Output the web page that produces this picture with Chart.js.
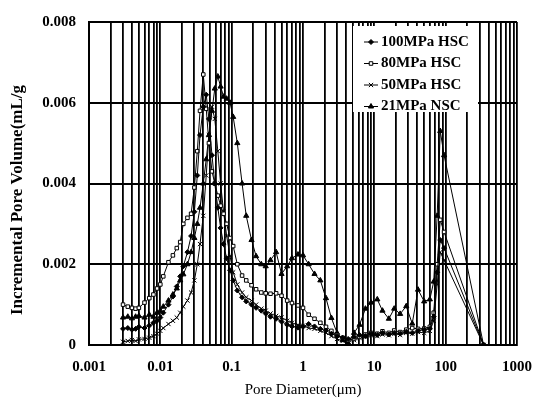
<!DOCTYPE html>
<html>
<head>
<meta charset="utf-8">
<script src="https://cdn.jsdelivr.net/npm/chart.js@4/dist/chart.umd.min.js"></script>
<style>
  html, body { margin: 0; padding: 0; background: #fff; }
  #wrap { width: 545px; height: 401px; }
</style>
</head>
<body>
<div id="wrap"><canvas id="poreChart" width="545" height="401"></canvas></div>
<script>
// 細孔径（μm）
const diameters = [
  0.003, 0.0035, 0.004, 0.0045, 0.005, 0.006, 0.007, 0.008, 0.009, 0.010,
  0.011, 0.013, 0.015, 0.017, 0.019, 0.021, 0.024, 0.027, 0.030, 0.033,
  0.036, 0.040, 0.044, 0.048, 0.053, 0.058, 0.064, 0.070, 0.077, 0.085,
  0.095, 0.105, 0.12, 0.14, 0.16, 0.19, 0.22, 0.26, 0.30, 0.35,
  0.42, 0.5, 0.6, 0.7, 0.85, 1.0, 1.2, 1.45, 1.75, 2.1,
  2.5, 3.0, 3.6, 4.3, 5.2, 6.2, 7.5, 9, 11, 13,
  16, 19, 23, 28, 34, 41, 50, 60, 68, 76,
  84, 95, 340
];

const hsc100 = [
  0.00040, 0.00042, 0.00038, 0.00040, 0.00045, 0.00042, 0.00048, 0.00055, 0.00060, 0.00068,
  0.00080, 0.00100, 0.00120, 0.00145, 0.00170, 0.00195, 0.00230, 0.00270, 0.00330, 0.00420,
  0.00520, 0.00590, 0.00620, 0.00560, 0.00470, 0.00400, 0.00340, 0.00290, 0.00250, 0.00215,
  0.00185, 0.00160, 0.00135, 0.00118, 0.00108, 0.00100, 0.00092, 0.00085, 0.00078, 0.00070,
  0.00065, 0.00058, 0.00050, 0.00046, 0.00043, 0.00045, 0.00052, 0.00046, 0.00040, 0.00036,
  0.00028, 0.00022, 0.00018, 0.00015, 0.00020, 0.00025, 0.00022, 0.00028, 0.00025, 0.00030,
  0.00026, 0.00030, 0.00028, 0.00033, 0.00030, 0.00035, 0.00038, 0.00040, 0.00070, 0.00180,
  0.00260, 0.00240, 0
];

const hsc80 = [
  0.00100, 0.00095, 0.00092, 0.00090, 0.00092, 0.00105, 0.00116, 0.00125, 0.00140, 0.00150,
  0.00170, 0.00205, 0.00222, 0.00240, 0.00255, 0.00300, 0.00315, 0.00325, 0.00390, 0.00480,
  0.00580, 0.00670, 0.00585, 0.00500, 0.00430, 0.00400, 0.00370, 0.00345, 0.00325, 0.00300,
  0.00265, 0.00245, 0.00200, 0.00172, 0.00160, 0.00148, 0.00138, 0.00130, 0.00128, 0.00127,
  0.00128, 0.00122, 0.00110, 0.00104, 0.00098, 0.00092, 0.00075, 0.00065, 0.00055, 0.00045,
  0.00035, 0.00025, 0.00018, 0.00012, 0.00015, 0.00020, 0.00026, 0.00030, 0.00028, 0.00034,
  0.00030, 0.00036, 0.00032, 0.00038, 0.00042, 0.00040, 0.00041, 0.00045, 0.00080, 0.00200,
  0.00310, 0.00280, 0
];

const hsc50 = [
  0.00008, 0.00010, 0.00012, 0.00010, 0.00014, 0.00015, 0.00018, 0.00022, 0.00028, 0.00035,
  0.00042, 0.00052, 0.00060, 0.00068, 0.00080, 0.00095, 0.00110, 0.00130, 0.00160, 0.00200,
  0.00250, 0.00320, 0.00420, 0.00520, 0.00590, 0.00560, 0.00480, 0.00400, 0.00330, 0.00270,
  0.00220, 0.00180, 0.00150, 0.00130, 0.00118, 0.00110, 0.00100, 0.00090, 0.00085, 0.00078,
  0.00072, 0.00068, 0.00060, 0.00055, 0.00050, 0.00048, 0.00042, 0.00040, 0.00035, 0.00030,
  0.00022, 0.00015, 0.00010, 0.00008, 0.00012, 0.00018, 0.00020, 0.00024, 0.00022, 0.00026,
  0.00024, 0.00028, 0.00025, 0.00030, 0.00028, 0.00032, 0.00030, 0.00035, 0.00060, 0.00150,
  0.00230, 0.00210, 0
];

const nsc21 = [
  0.00068, 0.00070, 0.00066, 0.00070, 0.00072, 0.00068, 0.00075, 0.00070, 0.00080, 0.00085,
  0.00095, 0.00110, 0.00125, 0.00140, 0.00160, 0.00175, 0.00200, 0.00230, 0.00265, 0.00300,
  0.00340, 0.00400, 0.00460, 0.00520, 0.00580, 0.00635, 0.00665, 0.00640, 0.00615, 0.00610,
  0.00600, 0.00565, 0.00500, 0.00400, 0.00320, 0.00260, 0.00220, 0.00200, 0.00195, 0.00210,
  0.00230, 0.00176, 0.00195, 0.00215, 0.00224, 0.00222, 0.00200, 0.00176, 0.00160, 0.00116,
  0.00067, 0.00030, 0.00012, 0.00005, 0.00030, 0.00050, 0.00090, 0.00105, 0.00113, 0.00085,
  0.00065, 0.00090, 0.00077, 0.00096, 0.00053, 0.00137, 0.00108, 0.00113, 0.00157, 0.00320,
  0.00530, 0.00470, 0
];

const seriesNames = ['100MPa HSC', '80MPa HSC', '50MPa HSC', '21MPa NSC'];
const xTickLabels = ['0.001', '0.01', '0.1', '1', '10', '100', '1000'];
const yTickLabels = ['0', '0.002', '0.004', '0.006', '0.008'];
const xTitle = 'Pore Diameter(μm)';
const yTitle = 'Incremental Pore Volume(mL/g';

const FONT = '"Liberation Serif", "Times New Roman", serif';

function toPoints(values) {
  return diameters.map((d, i) => ({ x: d, y: values[i] }));
}

function makeSet(label, values, style, fill, radius) {
  return {
    label: label,
    data: toPoints(values),
    borderColor: '#000',
    borderWidth: 1,
    pointStyle: style,
    pointRadius: radius,
    pointBackgroundColor: fill,
    pointBorderColor: '#000',
    pointBorderWidth: 1,
    tension: 0,
    fill: false
  };
}

// 凡例（プロット内右上）と縦軸タイトル
const insideLegend = {
  id: 'insideLegend',
  afterDatasetsDraw(chart) {
    const ctx = chart.ctx;
    const area = chart.chartArea;
    const left = area.right - 164;
    const top = area.top + 4;
    ctx.save();
    ctx.fillStyle = '#fff';
    ctx.fillRect(left, top, 125, 86);
    ctx.font = 'bold 15px ' + FONT;
    ctx.textBaseline = 'middle';
    chart.data.datasets.forEach((ds, i) => {
      const y = top + 16 + i * 21.5;
      ctx.strokeStyle = '#000';
      ctx.lineWidth = 1;
      ctx.beginPath();
      ctx.moveTo(left + 11, y);
      ctx.lineTo(left + 25, y);
      ctx.stroke();
      ctx.fillStyle = ds.pointBackgroundColor;
      Chart.helpers.drawPoint(ctx, { pointStyle: ds.pointStyle, radius: ds.pointRadius, borderWidth: 1, rotation: 0 }, left + 18, y);
      ctx.fillStyle = '#000';
      ctx.fillText(ds.label, left + 28, y);
    });
    ctx.restore();
  },
  afterDraw(chart) {
    const ctx = chart.ctx;
    ctx.save();
    ctx.translate(18, 200);
    ctx.rotate(-Math.PI / 2);
    ctx.font = 'bold 17px ' + FONT;
    ctx.fillStyle = '#000';
    ctx.textAlign = 'center';
    ctx.textBaseline = 'middle';
    ctx.fillText(yTitle, 0, 0);
    ctx.restore();
  }
};

new Chart(document.getElementById('poreChart').getContext('2d'), {
  type: 'line',
  data: {
    datasets: [
      makeSet(seriesNames[0], hsc100, 'rectRot', '#000', 2.5),
      makeSet(seriesNames[1], hsc80, 'rect', '#fff', 2.5),
      makeSet(seriesNames[2], hsc50, 'crossRot', '#000', 3),
      makeSet(seriesNames[3], nsc21, 'triangle', '#000', 3)
    ]
  },
  options: {
    responsive: false,
    animation: false,
    layout: { padding: { top: 13, right: 28, left: 0, bottom: 0 } },
    plugins: {
      legend: { display: false },
      tooltip: { enabled: false }
    },
    scales: {
      x: {
        type: 'logarithmic',
        min: 0.001,
        max: 1000,
        afterBuildTicks: (scale) => {
          const ticks = [];
          for (let e = -3; e <= 3; e++) {
            for (let s = 1; s <= 9; s++) {
              const v = Number((s * Math.pow(10, e)).toPrecision(3));
              if (v <= 1000) ticks.push({ value: v, major: s === 1 });
            }
          }
          scale.ticks = ticks;
        },
        afterFit: (scale) => { scale.height = 56; },
        grid: { color: '#000', lineWidth: 1.8, drawTicks: false },
        border: { color: '#000', width: 2 },
        ticks: {
          autoSkip: false,
          maxRotation: 0,
          padding: 13,
          color: '#000',
          font: { family: FONT, size: 15, weight: 'bold' },
          callback: (value) => {
            const k = Math.log10(value) + 3;
            return Math.abs(k - Math.round(k)) < 1e-6 ? xTickLabels[Math.round(k)] : '';
          }
        },
        title: {
          display: true,
          text: xTitle,
          color: '#000',
          font: { family: FONT, size: 15 },
          padding: { top: 0, bottom: 2 }
        }
      },
      y: {
        min: 0,
        max: 0.008,
        afterFit: (scale) => { scale.width = 89; },
        grid: { color: '#000', lineWidth: 2, drawTicks: false },
        border: { color: '#000', width: 2 },
        ticks: {
          stepSize: 0.002,
          padding: 13,
          color: '#000',
          font: { family: FONT, size: 15, weight: 'bold' },
          callback: (value, index) => yTickLabels[index]
        }
      }
    }
  },
  plugins: [insideLegend]
});
</script>
</body>
</html>
